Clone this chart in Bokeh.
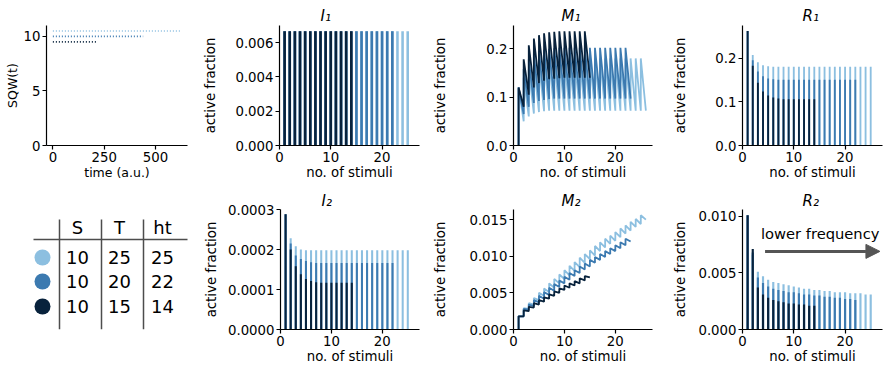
from bokeh.plotting import figure
from bokeh.layouts import column, row
from bokeh.models import Range1d, FixedTicker, Label, Arrow, NormalHead, PrintfTickFormatter
from bokeh.embed import file_html
from bokeh.resources import INLINE
from bokeh.core.properties import value

FONT = "DejaVu Sans"
COLORS = ["#8cbfe0", "#3c7ab0", "#08223c"]  # T=25, T=20, T=15

# ---------------- data ----------------
S_vals = [10, 10, 10]
T_vals = [25, 20, 15]
ht_vals = [25, 22, 14]

sqw_levels = [10.5, 10.0, 9.5]
sqw_end = [625, 440, 210]

I1_light = [0.00667, 0.00667, 0.00667, 0.00667, 0.00667, 0.00667, 0.00667, 0.00667, 0.00667, 0.00667,
            0.00667, 0.00667, 0.00667, 0.00667, 0.00667, 0.00667, 0.00667, 0.00667, 0.00667, 0.00667,
            0.00667, 0.00667, 0.00667, 0.00667, 0.00667]
I1_medium = [0.00667, 0.00667, 0.00667, 0.00667, 0.00667, 0.00667, 0.00667, 0.00667, 0.00667, 0.00667,
             0.00667, 0.00667, 0.00667, 0.00667, 0.00667, 0.00667, 0.00667, 0.00667, 0.00667, 0.00667,
             0.00667, 0.00667]
I1_dark = [0.00667, 0.00667, 0.00667, 0.00667, 0.00667, 0.00667, 0.00667, 0.00667, 0.00667, 0.00667,
           0.00667, 0.00667, 0.00667, 0.00667]

R1_light = [0.263, 0.208, 0.191, 0.184, 0.182, 0.181, 0.181, 0.181, 0.181, 0.181,
            0.181, 0.181, 0.181, 0.181, 0.181, 0.181, 0.181, 0.181, 0.181, 0.181,
            0.181, 0.181, 0.181, 0.181, 0.181]
R1_medium = [0.263, 0.196, 0.170, 0.159, 0.154, 0.152, 0.151, 0.151, 0.151, 0.151,
             0.151, 0.151, 0.151, 0.151, 0.151, 0.151, 0.151, 0.151, 0.151, 0.151,
             0.151, 0.151]
R1_dark = [0.263, 0.183, 0.144, 0.124, 0.115, 0.110, 0.108, 0.106, 0.106, 0.106,
           0.106, 0.106, 0.106, 0.106]

I2_light = [0.000288, 0.000228, 0.000208, 0.000200, 0.000198, 0.000198, 0.000198, 0.000198, 0.000198, 0.000198,
            0.000198, 0.000198, 0.000198, 0.000198, 0.000198, 0.000198, 0.000198, 0.000198, 0.000198, 0.000198,
            0.000198, 0.000198, 0.000198, 0.000198, 0.000198]
I2_medium = [0.000288, 0.000215, 0.000185, 0.000176, 0.000171, 0.000168, 0.000166, 0.000166, 0.000166, 0.000166,
             0.000166, 0.000166, 0.000166, 0.000166, 0.000166, 0.000166, 0.000166, 0.000166, 0.000166, 0.000166,
             0.000166, 0.000166]
I2_dark = [0.000288, 0.000200, 0.000158, 0.000138, 0.000126, 0.000121, 0.000118, 0.000117, 0.000117, 0.000117,
           0.000117, 0.000117, 0.000117, 0.000117]

R2_light = [0.0101, 0.0066, 0.0051, 0.0047, 0.0044, 0.0042, 0.0041, 0.0040, 0.0039, 0.0038,
            0.0037, 0.0036, 0.0036, 0.0035, 0.0035, 0.0034, 0.0034, 0.0033, 0.0033, 0.0033,
            0.0032, 0.0032, 0.0032, 0.0031, 0.0031]
R2_medium = [0.0101, 0.0068, 0.0046, 0.0041, 0.0038, 0.0036, 0.0035, 0.0034, 0.0033, 0.0033,
             0.0032, 0.0031, 0.0031, 0.0030, 0.0030, 0.0029, 0.0029, 0.0028, 0.0028, 0.0027,
             0.0027, 0.0026]
R2_dark = [0.0101, 0.0071, 0.0037, 0.0031, 0.0028, 0.0026, 0.0025, 0.0024, 0.0023, 0.0023,
           0.0022, 0.0022, 0.0021, 0.0021]

# M1 / M2: value right after each stimulus (peak) and just before the next one (trough)
M1_light_peak = [0.120, 0.140, 0.158, 0.168, 0.173, 0.176, 0.178, 0.179, 0.180, 0.180,
                 0.180, 0.180, 0.180, 0.180, 0.180, 0.180, 0.180, 0.180, 0.180, 0.180,
                 0.180, 0.180, 0.180, 0.180, 0.180]
M1_light_trough = [0.050, 0.060, 0.066, 0.069, 0.071, 0.072, 0.072, 0.072, 0.072, 0.072,
                   0.072, 0.072, 0.072, 0.072, 0.072, 0.072, 0.072, 0.072, 0.072, 0.072,
                   0.072, 0.072, 0.072, 0.072, 0.072]
M1_medium_peak = [0.120, 0.158, 0.178, 0.189, 0.195, 0.198, 0.200, 0.201, 0.202, 0.202,
                  0.202, 0.202, 0.202, 0.202, 0.202, 0.202, 0.202, 0.202, 0.202, 0.202,
                  0.202, 0.202]
M1_medium_trough = [0.065, 0.080, 0.088, 0.092, 0.094, 0.096, 0.097, 0.097, 0.097, 0.097,
                    0.097, 0.097, 0.097, 0.097, 0.097, 0.097, 0.097, 0.097, 0.097, 0.097,
                    0.097, 0.097]
M1_dark_peak = [0.120, 0.178, 0.207, 0.221, 0.228, 0.232, 0.234, 0.235, 0.236, 0.236,
                0.236, 0.236, 0.236, 0.236]
M1_dark_trough = [0.080, 0.105, 0.120, 0.129, 0.134, 0.137, 0.138, 0.139, 0.140, 0.140,
                  0.140, 0.140, 0.140, 0.140]

M2_light_peak = [0.0018, 0.0029, 0.0036, 0.0043, 0.0050, 0.0056, 0.0063, 0.0069, 0.0075, 0.0081,
                 0.0087, 0.0092, 0.0098, 0.0103, 0.0108, 0.0114, 0.0119, 0.0124, 0.0128, 0.0133,
                 0.0138, 0.0142, 0.0147, 0.0151, 0.0156]
M2_light_trough = [0.0018, 0.0028, 0.0034, 0.0040, 0.0046, 0.0051, 0.0057, 0.0063, 0.0069, 0.0074,
                   0.0080, 0.0085, 0.0091, 0.0096, 0.0101, 0.0107, 0.0112, 0.0117, 0.0121, 0.0126,
                   0.0131, 0.0135, 0.0140, 0.0144, 0.0150]
M2_medium_peak = [0.0018, 0.0028, 0.0034, 0.0040, 0.0046, 0.0051, 0.0057, 0.0062, 0.0067, 0.0072,
                  0.0077, 0.0081, 0.0086, 0.0090, 0.0095, 0.0099, 0.0103, 0.0107, 0.0111, 0.0115,
                  0.0119, 0.0124]
M2_medium_trough = [0.0018, 0.0027, 0.0032, 0.0037, 0.0042, 0.0047, 0.0053, 0.0058, 0.0063, 0.0068,
                    0.0073, 0.0077, 0.0082, 0.0086, 0.0091, 0.0095, 0.0099, 0.0103, 0.0107, 0.0111,
                    0.0115, 0.0120]
M2_dark_peak = [0.0018, 0.0026, 0.0031, 0.0036, 0.0040, 0.0044, 0.0048, 0.0052, 0.0056, 0.0060,
                0.0063, 0.0066, 0.0070, 0.0073]
M2_dark_trough = [0.0018, 0.0025, 0.0030, 0.0034, 0.0038, 0.0042, 0.0046, 0.0050, 0.0054, 0.0057,
                  0.0060, 0.0063, 0.0067, 0.0071]

# ticks
sqw_xticks = [0, 250, 500]
sqw_yticks = [0, 5, 10]
stim_xticks = [0, 10, 20]
I1_yticks = [0.0, 0.002, 0.004, 0.006]
M1_yticks = [0.0, 0.1, 0.2]
R1_yticks = [0.0, 0.1, 0.2]
I2_yticks = [0.0, 0.0001, 0.0002, 0.0003]
M2_yticks = [0.0, 0.005, 0.010, 0.015]
R2_yticks = [0.0, 0.005, 0.010]

XMAX = 27.3
TOP_H, BOT_H = 185, 182


def base_fig(w, h, xr, yr, left, right, top, bottom, title=None):
    p = figure(width=w, height=h, x_range=Range1d(*xr), y_range=Range1d(*yr),
               output_backend="svg", toolbar_location=None, title=title,
               min_border_left=left, min_border_right=right,
               min_border_top=top, min_border_bottom=bottom)
    p.xgrid.visible = False
    p.ygrid.visible = False
    p.outline_line_color = None
    p.background_fill_color = "white"
    p.border_fill_color = "white"
    return p


def style_axes(p, xlabel, ylabel, xticks, yticks, xfmt, yfmt, ylab_standoff,
               xlab_standoff=0, lab_size="13.3px", tick_size="13.3px"):
    for ax in (p.xaxis[0], p.yaxis[0]):
        ax.axis_line_width = 1.2
        ax.axis_line_color = "black"
        ax.major_tick_line_width = 1.2
        ax.major_tick_line_color = "black"
        ax.major_tick_out = 4
        ax.major_tick_in = 0
        ax.minor_tick_out = 0
        ax.minor_tick_in = 0
        ax.major_label_text_font = FONT
        ax.major_label_text_font_size = tick_size
        ax.major_label_text_color = "black"
        ax.axis_label_text_font = FONT
        ax.axis_label_text_font_size = lab_size
        ax.axis_label_text_font_style = "normal"
        ax.axis_label_text_color = "black"
        ax.major_label_standoff = 2
    p.xaxis[0].axis_label = xlabel
    p.yaxis[0].axis_label = ylabel
    p.xaxis[0].ticker = FixedTicker(ticks=xticks)
    p.yaxis[0].ticker = FixedTicker(ticks=yticks)
    p.xaxis[0].formatter = PrintfTickFormatter(format=xfmt)
    p.yaxis[0].formatter = PrintfTickFormatter(format=yfmt)
    p.yaxis[0].axis_label_standoff = ylab_standoff
    p.xaxis[0].axis_label_standoff = xlab_standoff


def style_title(p, offset, standoff):
    t = p.title
    t.align = "left"
    t.offset = offset
    t.standoff = standoff
    t.text_font = FONT
    t.text_font_style = "italic"
    t.text_font_size = "15px"
    t.text_color = "black"


def spikes(p, vals_list, width):
    for vals, c in zip(vals_list, COLORS):
        xs = list(range(1, len(vals) + 1))
        p.vbar(x=xs, top=vals, bottom=0, width=width, fill_color=c, line_color=None)


def sawtooth(peaks, troughs):
    xs, ys = [1], [0.0]
    for k, (pk, tr) in enumerate(zip(peaks, troughs), start=1):
        xs += [k, k + 1]
        ys += [pk, tr]
    return xs, ys


# ---------------- SQW panel ----------------
p_sqw = base_fig(200, TOP_H, (-31, 656), (0, 11), 46, 13, 25, 40)
for lvl, end, c in zip(sqw_levels, sqw_end, COLORS):
    p_sqw.line([0, end], [lvl, lvl], line_color=c, line_width=1.6, line_dash="1 2")
style_axes(p_sqw, "time (a.u.)", "SQW(t)", sqw_xticks, sqw_yticks, "%d", "%d", 1,
           xlab_standoff=0, lab_size="12.5px")

# ---------------- I1 ----------------
p_I1 = base_fig(230, TOP_H, (0, XMAX), (0, 0.0070), 79, 11, 25, 40, title="I\u2081")
spikes(p_I1, [I1_light, I1_medium, I1_dark], 0.5)
style_axes(p_I1, "no. of stimuli", "active fraction", stim_xticks, I1_yticks, "%d", "%.3f", 14)
style_title(p_I1, 41, 1)

# ---------------- M1 ----------------
p_M1 = base_fig(230, TOP_H, (0, XMAX), (0, 0.248), 80, 8, 25, 40, title="M\u2081")
for pk, tr, c in zip([M1_light_peak, M1_medium_peak, M1_dark_peak],
                     [M1_light_trough, M1_medium_trough, M1_dark_trough], COLORS):
    xs, ys = sawtooth(pk, tr)
    p_M1.line(xs, ys, line_color=c, line_width=1.8)
style_axes(p_M1, "no. of stimuli", "active fraction", stim_xticks, M1_yticks, "%d", "%.1f", 35)
style_title(p_M1, 48, 1)

# ---------------- R1 ----------------
p_R1 = base_fig(227, TOP_H, (0, XMAX), (0, 0.2755), 82, 5, 25, 40, title="R\u2081")
spikes(p_R1, [R1_light, R1_medium, R1_dark], 0.36)
style_axes(p_R1, "no. of stimuli", "active fraction", stim_xticks, R1_yticks, "%d", "%.1f", 24)
style_title(p_R1, 60, 1)

# ---------------- table (local pixel coordinates inside the bottom-left cell) ----------------
TAB_TOP, TAB_BOTTOM = 24, 38
p_tab = figure(width=200, height=BOT_H, x_range=Range1d(0, 200),
               y_range=Range1d(TAB_BOTTOM, BOT_H - TAB_TOP),
               output_backend="svg", toolbar_location=None, x_axis_type=None, y_axis_type=None,
               title=None, min_border_left=0, min_border_right=0, min_border_top=TAB_TOP,
               min_border_bottom=TAB_BOTTOM)
p_tab.xgrid.visible = False
p_tab.ygrid.visible = False
p_tab.outline_line_color = None


def ty(v):
    return BOT_H - v


col_x = [77, 119, 162]
row_y = [ty(72), ty(96), ty(121)]
p_tab.segment(x0=[59, 101, 143], y0=[ty(34)] * 3, x1=[59, 101, 143], y1=[ty(144)] * 3,
              line_color="#4d4d4d", line_width=1.5)
p_tab.segment(x0=[33], y0=[ty(54)], x1=[187], y1=[ty(54)], line_color="#4d4d4d", line_width=1.5)
p_tab.text(x=col_x, y=[ty(42)] * 3, text=["S", "T", "ht"], text_font=value(FONT),
           text_font_size=value("18px"), text_align="center", text_baseline="middle",
           text_color="black")
p_tab.scatter(x=[42, 42, 42], y=row_y, size=16, marker="circle", fill_color=COLORS, line_color=None)
for vals, cx in zip([S_vals, T_vals, ht_vals], col_x):
    p_tab.text(x=[cx] * len(vals), y=row_y, text=[str(v) for v in vals], text_font=value(FONT),
               text_font_size=value("18px"), text_align="center", text_baseline="middle",
               text_color="black")

# ---------------- I2 ----------------
p_I2 = base_fig(230, BOT_H, (0, XMAX), (0, 0.0003), 79, 11, 24, 38, title="I\u2082")
spikes(p_I2, [I2_light, I2_medium, I2_dark], 0.4)
style_axes(p_I2, "no. of stimuli", "active fraction", stim_xticks, I2_yticks, "%d", "%.4f", 6)
style_title(p_I2, 41, 0)

# ---------------- M2 ----------------
p_M2 = base_fig(230, BOT_H, (0, XMAX), (0, 0.01638), 80, 8, 24, 38, title="M\u2082")
for pk, tr, c in zip([M2_light_peak, M2_medium_peak, M2_dark_peak],
                     [M2_light_trough, M2_medium_trough, M2_dark_trough], COLORS):
    xs, ys = sawtooth(pk, tr)
    p_M2.line(xs, ys, line_color=c, line_width=1.8)
style_axes(p_M2, "no. of stimuli", "active fraction", stim_xticks, M2_yticks, "%d", "%.3f", 18)
style_title(p_M2, 48, 0)

# ---------------- R2 ----------------
p_R2 = base_fig(227, BOT_H, (0, XMAX), (0, 0.0106), 82, 5, 24, 38, title="R\u2082")
spikes(p_R2, [R2_light, R2_medium, R2_dark], 0.42)
style_axes(p_R2, "no. of stimuli", "active fraction", stim_xticks, R2_yticks, "%d", "%.3f", 7)
style_title(p_R2, 60, 0)
p_R2.add_layout(Arrow(end=NormalHead(size=14, fill_color="#555555", line_color="#555555"),
                      x_start=4.4, y_start=0.0069, x_end=26.8, y_end=0.0069,
                      line_width=3, line_color="#555555"))
p_R2.add_layout(Label(x=3.6, y=0.0085, text="lower frequency", text_align="left",
                      text_baseline="middle", text_font=FONT, text_font_size="14.7px",
                      text_color="black"))

layout = column(row(p_sqw, p_I1, p_M1, p_R1), row(p_tab, p_I2, p_M2, p_R2))
open("out.html", "w").write(file_html(layout, INLINE))
